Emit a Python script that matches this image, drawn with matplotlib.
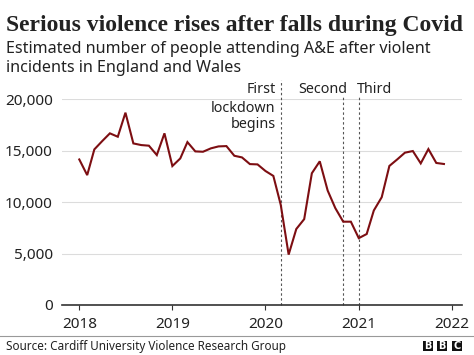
import matplotlib
matplotlib.use('Agg')
import matplotlib.pyplot as plt
import matplotlib.dates as mdates
import pandas as pd
from matplotlib.patches import Rectangle
from matplotlib.lines import Line2D

plt.rcParams['font.family'] = ['Noto Sans', 'DejaVu Sans']

# ---- data ----
months = pd.date_range('2018-01-01', '2021-12-01', freq='MS')
attendances = [14150, 12630, 15130, 15940, 16690, 16360, 18700, 15710, 15550, 15490, 14580, 16690,
               13510, 14250, 15840, 14935, 14900, 15230, 15420, 15450, 14510, 14350, 13700, 13670,
               13030, 12550, 9740, 4900, 7390, 8350, 12810, 13970, 11130, 9420, 8100, 8100,
               6500, 6900, 9190, 10480, 13520, 14160, 14810, 14970, 13770, 15160, 13810, 13710]
lockdown_dates = pd.to_datetime(['2020-03-01', '2020-11-01', '2021-01-01'])
year_ticks = pd.to_datetime(['2018-01-01', '2019-01-01', '2020-01-01', '2021-01-01', '2022-01-01'])
year_labels = ['2018', '2019', '2020', '2021', '2022']
y_ticks = [0, 5000, 10000, 15000, 20000]
y_labels = ['0', '5,000', '10,000', '15,000', '20,000']

title = 'Serious violence rises after falls during Covid'
subtitle = ['Estimated number of people attending A&E after violent',
            'incidents in England and Wales']
source = 'Source: Cardiff University Violence Research Group'

W, H = 474, 355
fig = plt.figure(figsize=(W / 100, H / 100), dpi=100)
ax = fig.add_axes([61.7 / W, 50 / H, 400.6 / W, 205.7 / H])

TXT = '#222222'
ax.plot(months, attendances, color='#7d0e12', lw=1.5, solid_joinstyle='miter', zorder=3)

ax.set_ylim(0, 20000)
ax.set_xlim(pd.Timestamp('2017-10-24'), pd.Timestamp('2022-02-11'))
ax.set_yticks(y_ticks)
ax.set_yticklabels(y_labels)
ax.set_xticks(year_ticks)
ax.set_xticklabels(year_labels)
ax.tick_params(axis='y', length=0, pad=6.3, labelsize=11, labelcolor=TXT)
ax.tick_params(axis='x', length=3.6, width=0.8, color='#333333', pad=5, labelsize=11, labelcolor=TXT)

for s in ['top', 'right', 'left']:
    ax.spines[s].set_visible(False)
ax.spines['bottom'].set_color('#333333')
ax.spines['bottom'].set_linewidth(1.2)
ax.spines['bottom'].set_zorder(4)
ax.grid(axis='y', color='#dcdcdc', lw=0.8, zorder=0)
ax.set_axisbelow(True)

# lockdown markers
tops = [1.094, 1.016, 1.016]
for d, t in zip(lockdown_dates, tops):
    ax.axvline(d, ymin=0, ymax=t, color='#555555', lw=0.8, ls=(0, (2.2, 2.2)), clip_on=False, zorder=2)

xt = ax.get_xaxis_transform()
ann_fs = 10.3
ax.text(pd.Timestamp('2020-02-10'), 1.0306, 'First', ha='right', va='baseline', fontsize=ann_fs, color=TXT, transform=xt)
ax.text(pd.Timestamp('2020-02-10'), 0.9397, 'lockdown', ha='right', va='baseline', fontsize=ann_fs, color=TXT, transform=xt)
ax.text(pd.Timestamp('2020-02-10'), 0.859, 'begins', ha='right', va='baseline', fontsize=ann_fs, color=TXT, transform=xt)
ax.text(pd.Timestamp('2020-08-14'), 1.0306, 'Second', ha='center', va='baseline', fontsize=ann_fs, color=TXT, transform=xt)
ax.text(pd.Timestamp('2020-12-24'), 1.0306, 'Third', ha='left', va='baseline', fontsize=ann_fs, color=TXT, transform=xt)

# titles
fig.canvas.draw()
renderer = fig.canvas.get_renderer()


def fit(t, width_px):
    bb = t.get_window_extent(renderer)
    t.set_fontsize(t.get_fontsize() * width_px / bb.width)


t1 = fig.text(6 / W, 1 - 30.7 / H, title, fontsize=16, fontweight='bold',
              family=['Liberation Serif', 'DejaVu Serif'],
              color=TXT, ha='left', va='baseline')
fit(t1, 457)
s1 = fig.text(6 / W, 1 - 53.3 / H, subtitle[0], fontsize=12.5, color=TXT, ha='left', va='baseline')
fit(s1, 425)
s2 = fig.text(6 / W, 1 - 71.7 / H, subtitle[1], fontsize=s1.get_fontsize(), color=TXT, ha='left', va='baseline')
src = fig.text(6 / W, 1 - 350 / H, source, fontsize=8.5, color=TXT, ha='left', va='baseline')
fit(src, 280)

# separator
fig.add_artist(Line2D([0, 1], [1 - 336 / H, 1 - 336 / H], color='#999999', lw=0.8, transform=fig.transFigure))

# BBC blocks
for i, ch in enumerate('BBC'):
    x0 = (422.5 + i * 14.7) / W
    fig.add_artist(Rectangle((x0, 1 - 351 / H), 10 / W, 10.5 / H, transform=fig.transFigure,
                             facecolor='#111111', edgecolor='none'))
    fig.text(x0 + 5 / W, 1 - 346 / H, ch, color='white', fontsize=7, fontweight='bold',
             ha='center', va='center', family=['DejaVu Sans'])

fig.savefig('out.png', dpi=100, facecolor='white')
